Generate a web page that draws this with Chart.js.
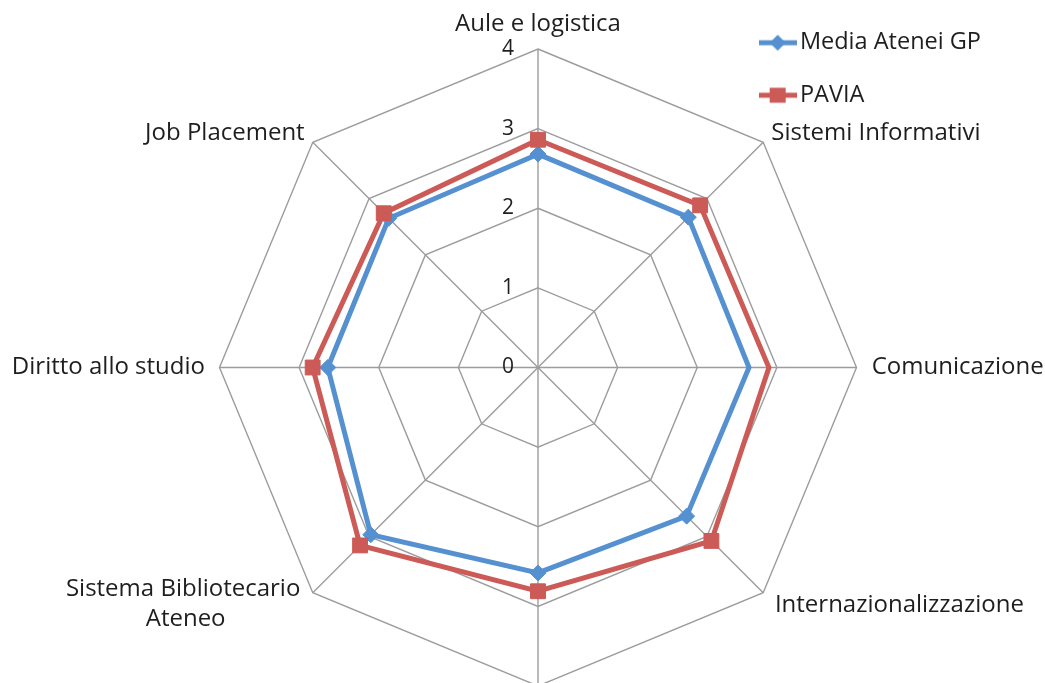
<!DOCTYPE html>
<html>
<head>
<meta charset="utf-8">
<script src="https://cdn.jsdelivr.net/npm/chart.js@4.4.1/dist/chart.umd.min.js"></script>
<style>
  html, body { margin: 0; padding: 0; background: #ffffff; overflow: hidden; }
  #wrap { width: 1045px; height: 683px; position: relative; }
</style>
</head>
<body>
<div id="wrap"><canvas id="chart" width="1045" height="683"></canvas></div>
<script>
// ---- data ----
const categories = [
  'Aule e logistica',
  'Sistemi Informativi',
  'Comunicazione',
  'Internazionalizzazione',
  'Segreterie Studenti',
  ['Sistema Bibliotecario', 'Ateneo'],
  'Diritto allo studio',
  'Job Placement'
];
const seriesNames = ['Media Atenei GP', 'PAVIA'];
const mediaAteneiGP = [2.68, 2.67, 2.65, 2.64, 2.58, 2.97, 2.64, 2.65];
const pavia = [2.86, 2.88, 2.90, 3.08, 2.81, 3.16, 2.83, 2.74];
const tickValues = [0, 1, 2, 3, 4];

// ---- styles ----
const FONT = "'Open Sans', sans-serif";
const BLUE = '#5590D0';
const RED = '#CC5A56';
const GRID = '#9c9c9c';
const TEXT = '#1e1e1e';
const PLOT = { x: 538, y: 367.5, r: 318.5 };
const LABEL_PAD = [13, 1, 4.7, 6, 6, -37, 4, 1];
const TICK_PAD = ' '.repeat(11);

function legendIcon(color, style) {
  const c = document.createElement('canvas');
  c.width = 38; c.height = 18;
  const g = c.getContext('2d');
  g.strokeStyle = color; g.lineWidth = 5;
  g.beginPath(); g.moveTo(0, 9); g.lineTo(38, 9); g.stroke();
  g.fillStyle = color;
  g.beginPath();
  if (style === 'rectRot') {
    g.moveTo(19, 1); g.lineTo(27, 9); g.lineTo(19, 17); g.lineTo(11, 9); g.closePath();
  } else {
    g.rect(11, 1.5, 16, 15);
  }
  g.fill();
  return c;
}

new Chart(document.getElementById('chart'), {
  type: 'radar',
  data: {
    labels: categories,
    datasets: [
      {
        label: seriesNames[0], data: mediaAteneiGP,
        borderColor: BLUE, backgroundColor: BLUE, borderWidth: 5, fill: false,
        pointStyle: 'rectRot', pointRadius: 8, pointBorderWidth: 1,
        pointBackgroundColor: BLUE, pointBorderColor: BLUE, order: 1
      },
      {
        label: seriesNames[1], data: pavia,
        borderColor: RED, backgroundColor: RED, borderWidth: 5, fill: false,
        pointStyle: 'rect', pointRadius: 10.5, pointBorderWidth: 1,
        pointBackgroundColor: RED, pointBorderColor: RED, order: 0
      }
    ]
  },
  options: {
    responsive: false,
    animation: false,
    devicePixelRatio: 1,
    layout: { padding: { top: 2, right: 54, left: 0, bottom: 0 } },
    elements: { line: { tension: 0 } },
    plugins: {
      tooltip: { enabled: false },
      legend: {
        position: 'right',
        align: 'start',
        labels: {
          usePointStyle: true,
          pointStyleWidth: 21,
          padding: 29,
          color: TEXT,
          font: { family: FONT, size: 23.5 },
          generateLabels: (chart) => {
            const items = Chart.defaults.plugins.legend.labels.generateLabels(chart);
            items.sort((a, b) => a.datasetIndex - b.datasetIndex);
            items.forEach(it => {
              const ds = chart.data.datasets[it.datasetIndex];
              it.pointStyle = legendIcon(ds.borderColor, ds.pointStyle);
            });
            return items;
          }
        }
      }
    },
    scales: {
      r: {
        min: 0,
        max: 4,
        startAngle: 0,
        grid: { color: GRID, lineWidth: 1.4 },
        angleLines: { color: GRID, lineWidth: 1.4 },
        ticks: {
          stepSize: 1,
          showLabelBackdrop: false,
          backdropPadding: 0,
          color: TEXT,
          font: { family: FONT, size: 21 },
          callback: (v) => String(v) + TICK_PAD
        },
        pointLabels: {
          color: TEXT,
          font: (ctx) => ({ family: FONT, size: 24, lineHeight: ctx.index === 5 ? 1.25 : 0.1 }),
          padding: (ctx) => LABEL_PAD[ctx.index],
          callback: (label, i) => {
            if (Array.isArray(label)) {
              return [label[0] + ' '.repeat(5), label[1] + ' '.repeat(17)];
            }
            return label;
          }
        },
        afterBuildTicks: (scale) => {
          scale.ticks = [{ value: tickValues[0] }].concat(tickValues.map(v => ({ value: v })));
        },
        beforeFit: (scale) => {
          scale.setCenterPoint = function () {
            this.xCenter = PLOT.x;
            this.yCenter = PLOT.y;
            this.drawingArea = PLOT.r;
          };
        }
      }
    }
  }
});
</script>
</body>
</html>
